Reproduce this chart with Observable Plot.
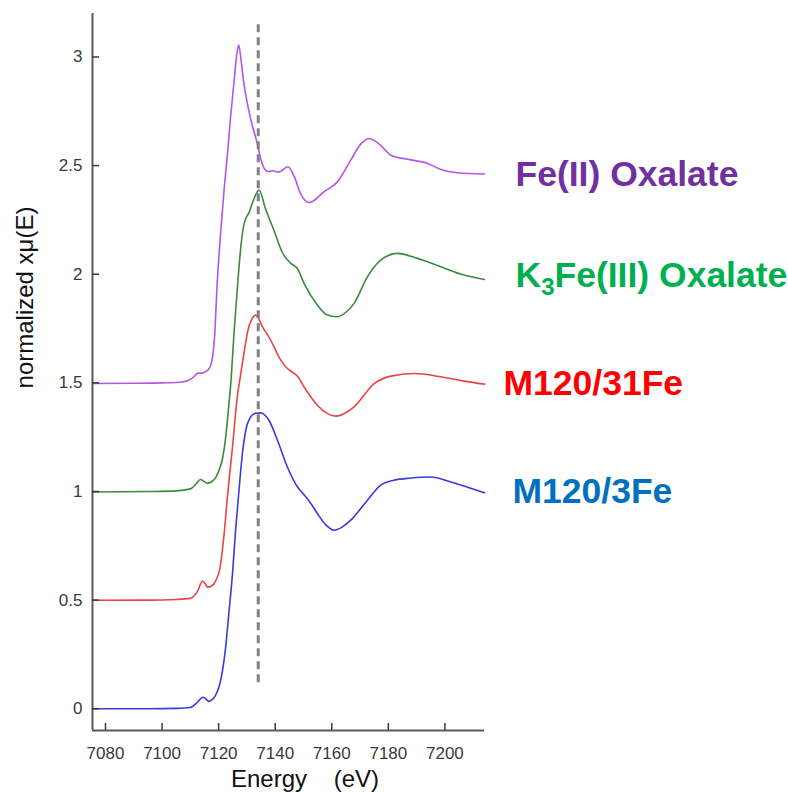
<!DOCTYPE html>
<html>
<head>
<meta charset="utf-8">
<script src="https://cdn.jsdelivr.net/npm/d3@7"></script>
<script src="https://cdn.jsdelivr.net/npm/@observablehq/plot@0.6"></script>
<style>
  html, body { margin: 0; padding: 0; background: #ffffff; }
  #chart { width: 788px; height: 792px; }
</style>
</head>
<body>
<div id="chart"></div>
<script>
// ---------- data ----------
const seriesNames = ["Fe(II) Oxalate", "K3Fe(III) Oxalate", "M120/31Fe", "M120/3Fe"];

// [energy (eV), normalized xμ(E)]
const feIIOxalate = [
  [7075.4, 1.497], [7090, 1.498], [7100, 1.500], [7106, 1.503], [7109, 1.510],
  [7111, 1.525], [7112.7, 1.545], [7114, 1.545], [7115.4, 1.552], [7116.6, 1.565],
  [7117.6, 1.600], [7118.5, 1.700], [7119.5, 1.960], [7120.7, 2.190], [7122, 2.400],
  [7123.1, 2.550], [7124.2, 2.720], [7125.4, 2.880], [7126.3, 3.000], [7127.1, 3.055],
  [7127.8, 3.000], [7128.5, 2.920], [7129.8, 2.810], [7131.4, 2.710], [7133.7, 2.600],
  [7134.9, 2.530], [7136.2, 2.485], [7137.5, 2.472], [7139, 2.476], [7141.3, 2.470],
  [7144.5, 2.495], [7146.7, 2.450], [7149, 2.370], [7152, 2.330], [7157.3, 2.380],
  [7162, 2.425], [7166.7, 2.525], [7170.3, 2.600], [7173.2, 2.625], [7176.7, 2.600],
  [7180.9, 2.548], [7186.8, 2.529], [7193.9, 2.510], [7198.6, 2.482], [7204.5, 2.467],
  [7214, 2.461]
];
const k3FeIIIOxalate = [
  [7075.4, 0.998], [7095, 1.000], [7105, 1.003], [7110, 1.012], [7112, 1.035],
  [7113.6, 1.055], [7115, 1.045], [7116, 1.038], [7117.5, 1.045], [7119, 1.065],
  [7120.5, 1.110], [7121.5, 1.160], [7122.5, 1.250], [7123.4, 1.370], [7124.3, 1.500],
  [7125.5, 1.740], [7126.7, 1.950], [7127.8, 2.120], [7128.8, 2.220], [7129.8, 2.262],
  [7130.8, 2.285], [7132, 2.330], [7134.3, 2.387], [7136.6, 2.300], [7139.6, 2.200],
  [7142.5, 2.100], [7145.5, 2.050], [7147.9, 2.025], [7150.2, 1.958], [7154.9, 1.858],
  [7158, 1.815], [7162, 1.804], [7165, 1.825], [7167.9, 1.866], [7172.6, 1.988],
  [7177.3, 2.065], [7183.2, 2.096], [7190.3, 2.073], [7198.6, 2.034], [7206.8, 1.996],
  [7214, 1.976]
];
const m120_31Fe = [
  [7075.4, 0.4995], [7095, 0.500], [7105, 0.503], [7110, 0.508], [7112.5, 0.540],
  [7114.3, 0.588], [7115.2, 0.575], [7116.1, 0.560], [7117.5, 0.565], [7119, 0.590],
  [7120.5, 0.650], [7121.9, 0.800], [7123.1, 0.975], [7124.9, 1.205], [7126.6, 1.436],
  [7127.8, 1.540], [7129, 1.640], [7130.5, 1.750], [7131.8, 1.795], [7133.1, 1.812],
  [7135.5, 1.758], [7138.4, 1.697], [7141.3, 1.620], [7144.3, 1.566], [7146, 1.550],
  [7147.9, 1.530], [7150.2, 1.482], [7154.9, 1.397], [7161.4, 1.347], [7167.9, 1.390],
  [7175, 1.497], [7180.9, 1.531], [7189.1, 1.543], [7198.6, 1.528], [7206.8, 1.508],
  [7214, 1.494]
];
const m120_3Fe = [
  [7075.4, 0.000], [7095, 0.000], [7105, 0.002], [7110, 0.006], [7112.5, 0.030],
  [7114.4, 0.053], [7115.5, 0.045], [7116.4, 0.034], [7117.5, 0.040], [7118.9, 0.062],
  [7120.1, 0.100], [7121.3, 0.170], [7122.5, 0.285], [7123.6, 0.438], [7124.9, 0.622],
  [7126, 0.822], [7127.2, 1.006], [7128.4, 1.175], [7129.6, 1.282], [7131.3, 1.343],
  [7133, 1.360], [7134.9, 1.362], [7136.5, 1.350], [7137.8, 1.328], [7140.8, 1.236],
  [7144.3, 1.113], [7147.9, 1.021], [7150.2, 0.985], [7152.6, 0.945], [7154.9, 0.899],
  [7158, 0.845], [7160.8, 0.822], [7163.5, 0.835], [7166.7, 0.868], [7172.6, 0.960],
  [7177.3, 1.029], [7182, 1.052], [7188, 1.062], [7195, 1.067], [7202.1, 1.044],
  [7208, 1.020], [7214, 0.994]
];
const seriesValues = [feIIOxalate, k3FeIIIOxalate, m120_31Fe, m120_3Fe];

const xTicks = [7080, 7100, 7120, 7140, 7160, 7180, 7200];
const yTicks = [0, 0.5, 1, 1.5, 2, 2.5, 3];
const xDomain = [7075.4, 7214];
const yDomain = [-0.1, 3.2];
const markerEnergy = [7134];       // dashed reference line
const markerSpan = [0.12, 3.17];
const xLabel = "Energy\u00a0\u00a0\u00a0\u00a0(eV)";
const yLabel = "normalized xμ(E)";

// ---------- styles ----------
const lineColors = ["#b455e6", "#3c8a3c", "#e84545", "#3b3bdc"];
const labelColors = ["#7030a0", "#00b050", "#ff0000", "#0070c0"];
const labelOffsets = [{dx: 31, dy: 1}, {dx: 31, dy: -4}, {dx: 19, dy: -1}, {dx: 28, dy: -1}];
const FONT = "'Liberation Sans', Arial, Helvetica, sans-serif";

// ---------- table ----------
const rows = seriesNames.flatMap((name, i) =>
  seriesValues[i].map(([E, mu]) => ({name, E, mu})));

const labelMarks = seriesNames.map((name, i) => {
  const last = seriesValues[i][seriesValues[i].length - 1];
  return Plot.text([{name, mu: last[1]}], {
    x: () => xDomain[1], y: "mu", text: "name",
    textAnchor: "start", lineAnchor: "middle",
    dx: labelOffsets[i].dx, dy: labelOffsets[i].dy,
    fill: labelColors[i], fontSize: 35.5, fontWeight: "bold"
  });
});

const chart = Plot.plot({
  width: 788,
  height: 792,
  marginLeft: 92,
  marginTop: 13,
  marginBottom: 62,
  marginRight: 304,
  style: {fontFamily: FONT, fontSize: "16px", background: "#ffffff", overflow: "visible"},
  x: {domain: xDomain, label: null},
  y: {domain: yDomain, label: null},
  color: {domain: seriesNames, range: lineColors},
  marks: [
    Plot.line(rows, {x: "E", y: "mu", z: "name", stroke: "name", strokeWidth: 1.6, curve: "monotone-x"}),
    Plot.ruleX(markerEnergy, {y1: markerSpan[0], y2: markerSpan[1], stroke: "#808080", strokeWidth: 3, strokeDasharray: "8,5"}),
    Plot.ruleX([xDomain[0]], {stroke: "#5a5a5a", strokeWidth: 2}),
    Plot.ruleY([yDomain[0]], {stroke: "#5a5a5a", strokeWidth: 2}),
    Plot.axisX({ticks: xTicks, tickFormat: d => String(d), tickSize: -7, tickPadding: 23,
      fontSize: 17, color: "#3a3a3a", strokeWidth: 1.5, label: null}),
    Plot.axisY({ticks: yTicks, tickFormat: d => String(d), tickSize: -7, tickPadding: 17,
      fontSize: 17, color: "#3a3a3a", strokeWidth: 1.5, label: null}),
    Plot.text([xLabel], {frameAnchor: "bottom", text: d => d, lineAnchor: "top",
      dx: 16.5, dy: 39, fontSize: 24, fill: "#111"}),
    Plot.text([yLabel], {frameAnchor: "left", text: d => d, rotate: -90,
      textAnchor: "middle", lineAnchor: "middle", dx: -67, dy: -74.5, fontSize: 24, fill: "#111"}),
    ...labelMarks
  ]
});

// K3 subscript
d3.select(chart).selectAll("text")
  .filter(function () { return this.textContent === "K3Fe(III) Oxalate"; })
  .each(function () {
    const t = d3.select(this);
    t.text(null);
    t.append("tspan").text("K");
    t.append("tspan").attr("font-size", 24).attr("dy", 8).text("3");
    t.append("tspan").attr("dy", -8).text("Fe(III) Oxalate");
  });

document.getElementById("chart").appendChild(chart);
</script>
</body>
</html>
